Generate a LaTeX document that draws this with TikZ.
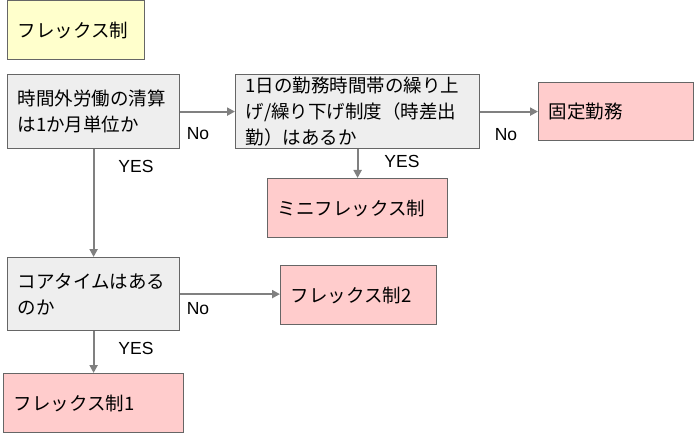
\documentclass[tikz,border=0pt]{standalone}
\usepackage{fontspec}
\setmainfont{Liberation Sans}
\newfontfamily\jp{Noto Sans CJK JP}
\usetikzlibrary{arrows.meta}
\definecolor{boxline}{HTML}{666666}
\definecolor{arrowgray}{HTML}{808080}
\definecolor{yellowfill}{HTML}{FFFFCC}
\definecolor{grayfill}{HTML}{EEEEEE}
\definecolor{pinkfill}{HTML}{FFCCCC}
\tikzset{
  basebox/.style={draw=boxline, line width=1.2pt, rectangle, anchor=north west,
    inner xsep=10pt, inner ysep=0pt, align=left,
    font=\jp\fontsize{18.5}{26}\selectfont},
  ybox/.style={basebox, fill=yellowfill},
  gbox/.style={basebox, fill=grayfill},
  pbox/.style={basebox, fill=pinkfill},
  conn/.style={draw=arrowgray, line width=2pt, -{Triangle[length=8pt,width=8pt]}},
  lbl/.style={font=\fontsize{17.5}{18}\selectfont, inner sep=0pt}
}
\begin{document}
\begin{tikzpicture}[x=1pt,y=-1pt]
\useasboundingbox (0,0) rectangle (694,433);
\node[ybox, text width=117pt, minimum height=59pt] (title) at (7,0) {フレックス制};
\node[gbox, text width=152pt, minimum height=74pt] (q1) at (7,74) {時間外労働の清算\\は1か月単位か};
\node[gbox, text width=224pt, minimum height=74pt] (q2) at (235,74) {1日の勤務時間帯の繰り上\\げ/繰り下げ制度（時差出\\勤）はあるか};
\node[pbox, text width=135pt, minimum height=58pt] (fixed) at (538,82) {固定勤務};
\node[pbox, text width=160pt, minimum height=59pt] (mini) at (267,178) {ミニフレックス制};
\node[gbox, text width=152pt, minimum height=73pt] (q3) at (7,257) {コアタイムはある\\のか};
\node[pbox, text width=136pt, minimum height=59pt] (flex2) at (280,265) {フレックス制2};
\node[pbox, text width=160pt, minimum height=59pt] (flex1) at (3,373) {フレックス制1};
\draw[conn] (q1.east) -- (q2.west);
\draw[conn] (q2.east) -- (fixed.west);
\draw[conn] (q2.south) -- (mini.north);
\draw[conn] (q1.south) -- (q3.north);
\draw[conn] (q3.east) -- (flex2.west |- q3.east);
\draw[conn] (q3.south) -- (flex1.north);
\node[lbl] (no1) at (198,134) {No};
\node[lbl] (no2) at (506,135) {No};
\node[lbl] (no3) at (198,309) {No};
\node[lbl] (yes1) at (136,166) {YES};
\node[lbl] (yes2) at (402,161) {YES};
\node[lbl] (yes3) at (136,348) {YES};
\end{tikzpicture}
\end{document}
